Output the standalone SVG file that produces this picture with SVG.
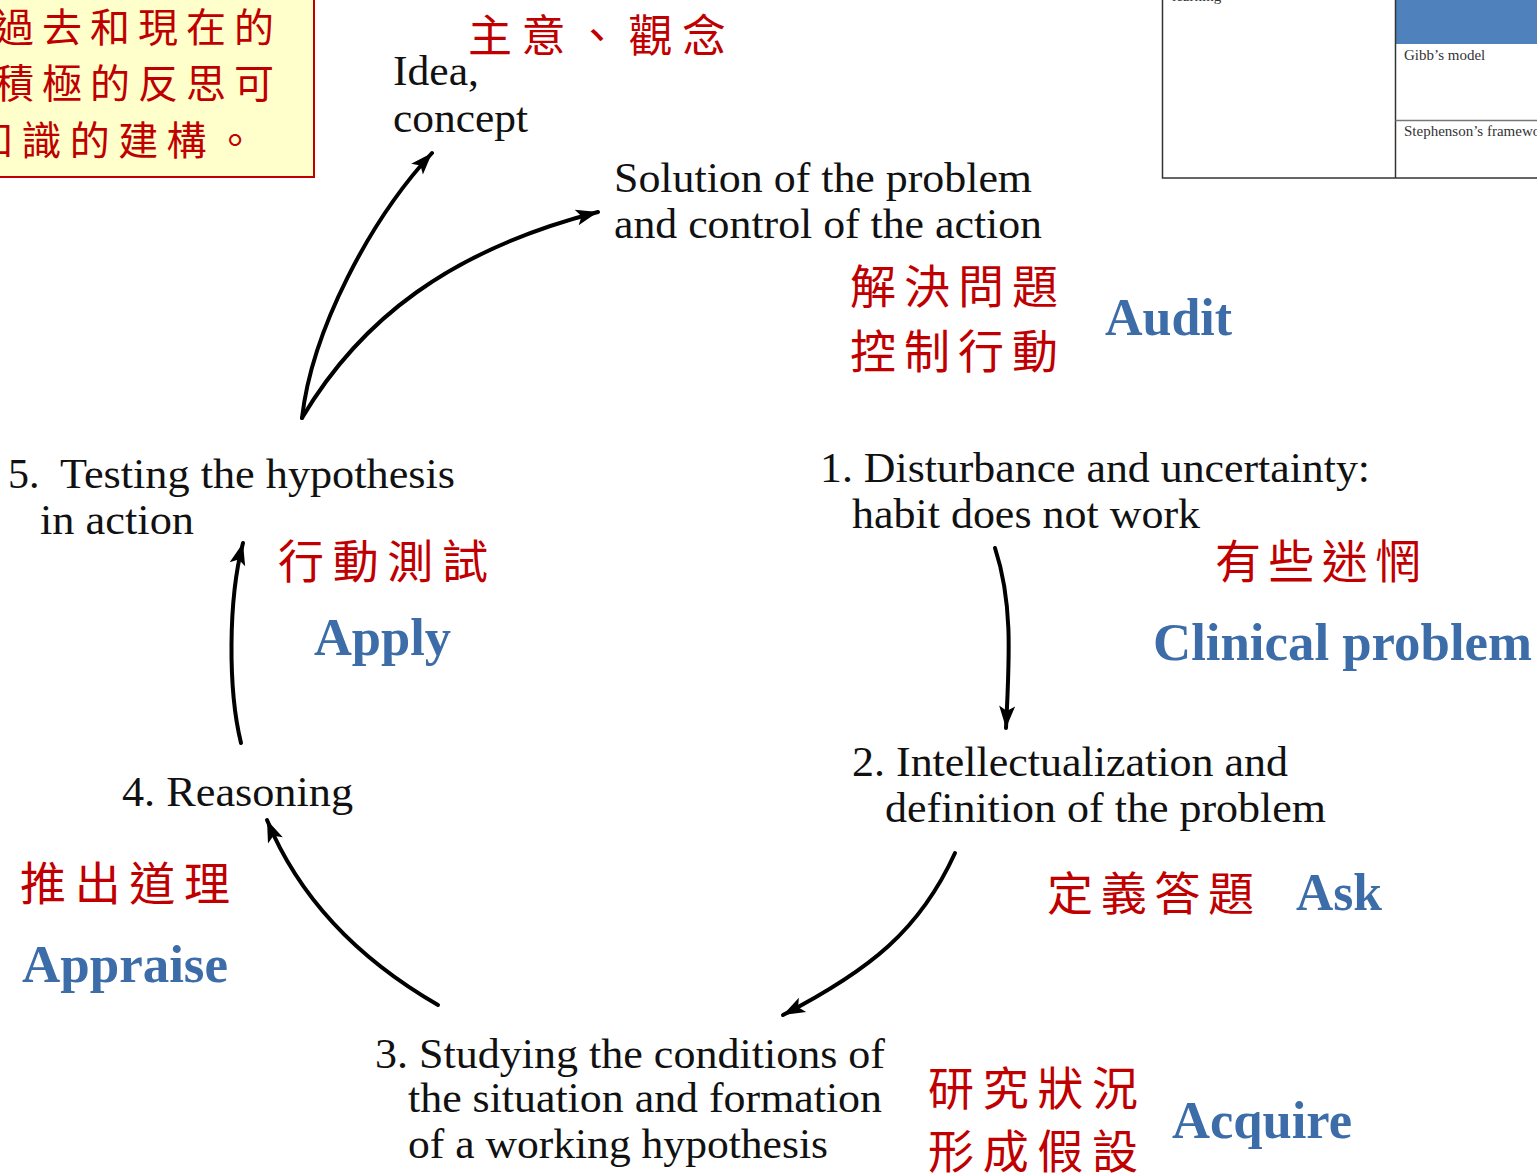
<svg xmlns="http://www.w3.org/2000/svg" width="1537" height="1175" viewBox="0 0 1537 1175">
  <style>
    .en { font-family: "Liberation Serif", "Times New Roman", serif; font-size: 42px; fill: #111; }
    .zh { font-family: "Noto Sans CJK TC", "Noto Sans CJK SC", sans-serif; fill: #C00000; }
    .kw { font-family: "Liberation Serif", "Times New Roman", serif; font-size: 52px; font-weight: bold; fill: #3D6DA8; }
    .tb { font-family: "Liberation Serif", "Times New Roman", serif; font-size: 15px; fill: #333; }
    .arrow { fill: none; stroke: #000; stroke-width: 4; stroke-linecap: round; marker-end: url(#head); }
  </style>
  <defs>
    <marker id="head" viewBox="-2 -10 26 20" markerUnits="userSpaceOnUse" markerWidth="26" markerHeight="20" refX="22" refY="0" orient="auto">
      <path d="M0,-8 L22,0 L0,8 L5,0 Z" fill="#000"/>
    </marker>
  </defs>

  <rect width="1537" height="1175" fill="#fff"/>

  <!-- note box, top left (runs off the page edge) -->
  <g id="note">
    <rect x="-10" y="-10" width="324" height="187" fill="#FFFFCC" stroke="#C00000" stroke-width="2"/>
    <text class="zh" font-size="40" x="-6" y="42" textLength="280" lengthAdjust="spacing">過去和現在的</text>
    <text class="zh" font-size="40" x="-6" y="98" textLength="280" lengthAdjust="spacing">積極的反思可</text>
    <text class="zh" font-size="40" x="-27" y="155" textLength="282" lengthAdjust="spacing">知識的建構。</text>
  </g>

  <!-- table fragment, top right (runs off the page edge) -->
  <g id="table">
    <rect x="1396" y="-2" width="145" height="46" fill="#4F81BD"/>
    <rect x="1162.5" y="-5" width="380" height="183" fill="none" stroke="#333" stroke-width="1.5"/>
    <line x1="1395.5" y1="-5" x2="1395.5" y2="178" stroke="#333" stroke-width="1.5"/>
    <line x1="1395.5" y1="120.5" x2="1540" y2="120.5" stroke="#777" stroke-width="1.5"/>
    <text class="tb" x="1172" y="1">learning</text>
    <text class="tb" x="1404" y="60">Gibb’s model</text>
    <text class="tb" x="1404" y="136">Stephenson’s framework</text>
  </g>

  <!-- connectors -->
  <g id="connectors">
    <path class="arrow" d="M302,418 C312,330 370,220 432,153"/>
    <path class="arrow" d="M302,418 C360,320 450,250 598,212"/>
    <path class="arrow" d="M995,548 C1012,600 1010,650 1006,728"/>
    <path class="arrow" d="M955,853 C920,930 870,970 783,1015"/>
    <path class="arrow" d="M438,1005 C360,960 300,900 267,820"/>
    <path class="arrow" d="M241,743 C228,690 228,600 243,543"/>
  </g>

  <!-- idea / concept -->
  <g id="idea">
    <text class="en" x="393" y="85" textLength="86" lengthAdjust="spacingAndGlyphs">Idea,</text>
    <text class="en" x="393" y="132" textLength="135" lengthAdjust="spacingAndGlyphs">concept</text>
    <text class="zh" font-size="44" x="468" y="52" textLength="258" lengthAdjust="spacing">主意、觀念</text>
  </g>

  <!-- solution -->
  <g id="solution">
    <text class="en" x="614" y="192" textLength="418" lengthAdjust="spacingAndGlyphs">Solution of the problem</text>
    <text class="en" x="614" y="238" textLength="428" lengthAdjust="spacingAndGlyphs">and control of the action</text>
    <text class="zh" font-size="46" x="850" y="303" textLength="208" lengthAdjust="spacing">解決問題</text>
    <text class="zh" font-size="46" x="850" y="368" textLength="208" lengthAdjust="spacing">控制行動</text>
    <text class="kw" x="1105" y="335" textLength="127" lengthAdjust="spacingAndGlyphs">Audit</text>
  </g>

  <!-- step 1 -->
  <g id="step1">
    <text class="en" x="820" y="482" textLength="550" lengthAdjust="spacingAndGlyphs">1. Disturbance and uncertainty:</text>
    <text class="en" x="852" y="528" textLength="348" lengthAdjust="spacingAndGlyphs">habit does not work</text>
    <text class="zh" font-size="46" x="1215" y="578" textLength="206" lengthAdjust="spacing">有些迷惘</text>
    <text class="kw" x="1153" y="660" textLength="379" lengthAdjust="spacingAndGlyphs">Clinical problem</text>
  </g>

  <!-- step 2 -->
  <g id="step2">
    <text class="en" x="852" y="776" textLength="436" lengthAdjust="spacingAndGlyphs">2. Intellectualization and</text>
    <text class="en" x="885" y="822" textLength="441" lengthAdjust="spacingAndGlyphs">definition of the problem</text>
    <text class="zh" font-size="46" x="1047" y="910" textLength="207" lengthAdjust="spacing">定義答題</text>
    <text class="kw" x="1296" y="910" textLength="86" lengthAdjust="spacingAndGlyphs">Ask</text>
  </g>

  <!-- step 3 -->
  <g id="step3">
    <text class="en" x="375" y="1068" textLength="510" lengthAdjust="spacingAndGlyphs">3. Studying the conditions of</text>
    <text class="en" x="408" y="1112" textLength="474" lengthAdjust="spacingAndGlyphs">the situation and formation</text>
    <text class="en" x="408" y="1158" textLength="420" lengthAdjust="spacingAndGlyphs">of a working hypothesis</text>
    <text class="zh" font-size="46" x="928" y="1105" textLength="210" lengthAdjust="spacing">研究狀況</text>
    <text class="zh" font-size="46" x="928" y="1168" textLength="210" lengthAdjust="spacing">形成假設</text>
    <text class="kw" x="1172" y="1138" textLength="180" lengthAdjust="spacingAndGlyphs">Acquire</text>
  </g>

  <!-- step 4 -->
  <g id="step4">
    <text class="en" x="122" y="806" textLength="231" lengthAdjust="spacingAndGlyphs">4. Reasoning</text>
    <text class="zh" font-size="46" x="20" y="900" textLength="210" lengthAdjust="spacing">推出道理</text>
    <text class="kw" x="22" y="982" textLength="206" lengthAdjust="spacingAndGlyphs">Appraise</text>
  </g>

  <!-- step 5 -->
  <g id="step5">
    <text class="en" x="8" y="488">5.</text>
    <text class="en" x="60" y="488" textLength="395" lengthAdjust="spacingAndGlyphs">Testing the hypothesis</text>
    <text class="en" x="40" y="534" textLength="154" lengthAdjust="spacingAndGlyphs">in action</text>
    <text class="zh" font-size="46" x="278" y="578" textLength="210" lengthAdjust="spacing">行動測試</text>
    <text class="kw" x="314" y="655" textLength="137" lengthAdjust="spacingAndGlyphs">Apply</text>
  </g>
</svg>
